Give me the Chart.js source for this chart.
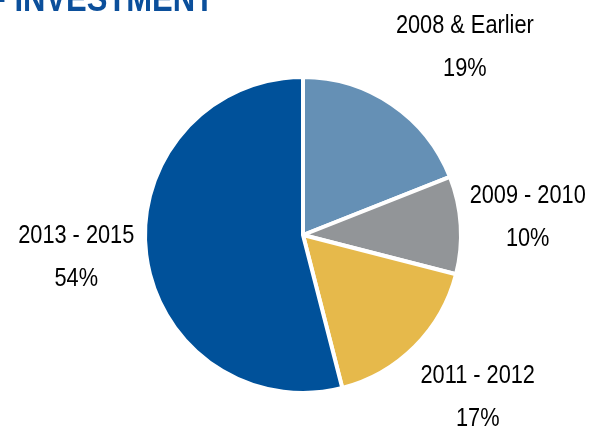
<!DOCTYPE html>
<html>
<head>
<meta charset="utf-8">
<script src="https://cdn.jsdelivr.net/npm/chart.js@4"></script>
<style>
    html, body { margin: 0; padding: 0; background: #fff; }
    #wrap { width: 595px; height: 431px; position: relative; }
</style>
</head>
<body>
<div id="wrap"><canvas id="chart"></canvas></div>
<script>
const categories = ['2008 & Earlier', '2009 - 2010', '2011 - 2012', '2013 - 2015'];
const shares = [19, 10, 17, 54];
const titleText = 'YEAR OF INVESTMENT';

const sliceColors = ['#6590b5', '#929598', '#e6b94b', '#00519a'];

// label anchors relative to the outer edge point at each slice's mid angle
const labelOffsets = [[73, -59], [67, -10], [63, 48], [-70, 0]];

const pieLabels = {
    id: 'pieLabels',
    afterDraw(chart) {
        const ctx = chart.ctx;
        const meta = chart.getDatasetMeta(0);
        ctx.save();
        ctx.fillStyle = '#000';
        ctx.textAlign = 'center';
        ctx.textBaseline = 'alphabetic';
        ctx.font = '25px "Liberation Sans", Arial, sans-serif';
        meta.data.forEach((arc, i) => {
            const mid = (arc.startAngle + arc.endAngle) / 2;
            const r = arc.outerRadius;
            const cx = arc.x + Math.cos(mid) * r + labelOffsets[i][0];
            const cy = arc.y + Math.sin(mid) * r + labelOffsets[i][1];
            const lines = [categories[i], shares[i] + '%'];
            lines.forEach((t, j) => {
                ctx.save();
                ctx.translate(cx, cy - 12 + j * 43);
                ctx.scale(0.87, 1);
                ctx.fillText(t, 0, 0);
                ctx.restore();
            });
        });
        // title, cut off by the top edge like the source
        ctx.fillStyle = '#0b4f9b';
        ctx.textAlign = 'right';
        ctx.font = 'bold 36px "Liberation Sans", Arial, sans-serif';
        ctx.translate(214, 11);
        ctx.scale(0.86, 1);
        ctx.fillText(titleText, 0, 0);
        ctx.restore();
    }
};

new Chart(document.getElementById('chart'), {
    type: 'pie',
    data: {
        labels: categories,
        datasets: [{
            data: shares,
            backgroundColor: sliceColors,
            borderColor: '#fff',
            borderWidth: 4,
            hoverOffset: 0
        }]
    },
    options: {
        responsive: true,
        maintainAspectRatio: false,
        animation: false,
        radius: 158,
        layout: {
            padding: { top: 39, bottom: 0, left: 11, right: 0 }
        },
        plugins: {
            legend: { display: false },
            tooltip: { enabled: false },
            title: { display: false }
        }
    },
    plugins: [pieLabels]
});
</script>
</body>
</html>
